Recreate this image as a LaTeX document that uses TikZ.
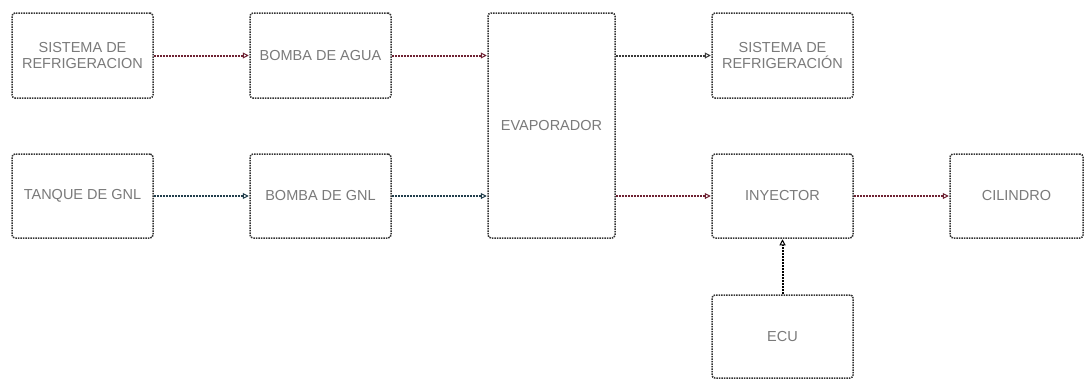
\documentclass[tikz,border=0pt]{standalone}
\usepackage{fontspec}
\setmainfont{Liberation Sans}
\usetikzlibrary{arrows.meta}
\definecolor{boxline}{HTML}{333333}
\definecolor{txt}{HTML}{7A7A7A}
\definecolor{redline}{HTML}{6E2233}
\definecolor{blueline}{HTML}{223E4C}
\definecolor{greyline}{HTML}{3A3A3A}
\tikzset{
  blk/.style={draw=boxline, densely dotted, line width=1.5pt, rounded corners=3pt,
    fill=white, text=txt, align=center, minimum width=141pt, minimum height=85pt,
    inner sep=2pt, font=\fontsize{14.5}{16}\selectfont},
  conn/.style={densely dotted, line width=2pt, -{Triangle[open,length=6pt,width=6pt,line width=1pt]}, shorten >=0.5pt},
}
\begin{document}
\begin{tikzpicture}[x=1pt,y=-1pt]
\useasboundingbox (0,0) rectangle (1084,380);
\node[blk] (sr1) at (82.5,55.5) {SISTEMA DE\\REFRIGERACION};
\node[blk] (bag) at (320.5,55.5) {BOMBA DE AGUA};
\node[blk, minimum width=127pt, minimum height=225pt] (evap) at (551.5,125.5) {EVAPORADOR};
\node[blk] (sr2) at (782.5,55.5) {SISTEMA DE\\REFRIGERACIÓN};
\node[blk, minimum height=84pt] (tq) at (82.5,196) {TANQUE DE GNL};
\node[blk, minimum height=84pt] (bgnl) at (320.5,196) {BOMBA DE GNL};
\node[blk, minimum height=84pt] (iny) at (782.5,196) {INYECTOR};
\node[blk, minimum height=84pt, minimum width=133pt] (cil) at (1016.5,196) {CILINDRO};
\node[blk, minimum height=83pt] (ecu) at (782.5,336.5) {ECU};
\draw[conn, draw=redline] (sr1.east) -- (bag.west);
\draw[conn, draw=redline] (bag.east) -- (evap.west |- bag.east);
\draw[conn, draw=blueline] (tq.east) -- (bgnl.west);
\draw[conn, draw=blueline] (bgnl.east) -- (evap.west |- bgnl.east);
\draw[conn, draw=greyline] (evap.east |- sr2.west) -- (sr2.west);
\draw[conn, draw=redline] (evap.east |- iny.west) -- (iny.west);
\draw[conn, draw=redline] (iny.east) -- (cil.west);
\draw[conn, draw=black] (ecu.north) -- (iny.south);
\end{tikzpicture}
\end{document}
